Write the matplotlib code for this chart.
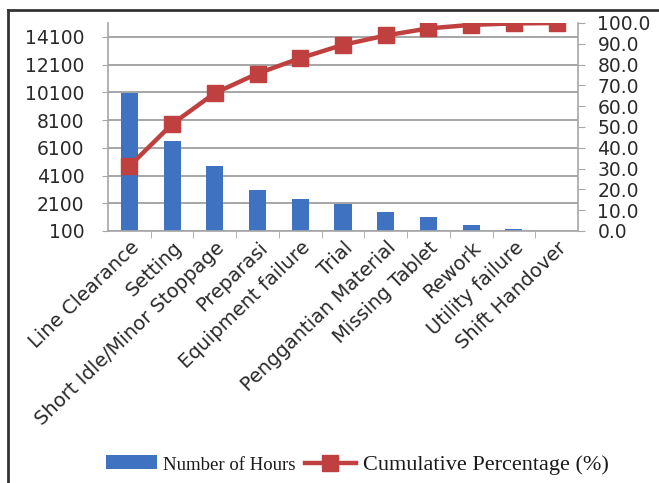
import matplotlib
matplotlib.use('Agg')
import matplotlib.pyplot as plt
from matplotlib.lines import Line2D
from matplotlib.transforms import ScaledTranslation

# downtime categories, hours lost and running share (%)
categorias = ['Line Clearance', 'Setting', 'Short Idle/Minor Stoppage', 'Preparasi',
              'Equipment failure', 'Trial', 'Penggantian Material', 'Missing Tablet',
              'Rework', 'Utility failure', 'Shift Handover']
horas = [10060, 6600, 4800, 3060, 2410, 2050, 1470, 1110, 530, 250, 60]
acumulado = [31.1, 51.4, 66.3, 75.7, 83.1, 89.5, 94.0, 97.4, 99.1, 99.8, 100.0]

ticks_izq = [100, 2100, 4100, 6100, 8100, 10100, 12100, 14100]
ticks_der = [0, 10, 20, 30, 40, 50, 60, 70, 80, 90, 100]

azul = '#3f72c0'
rojo = '#c0403f'
gris = '#a6a6a6'
texto = '#2a2a2a'

W, H = 659, 483
fig = plt.figure(figsize=(W / 100, H / 100), dpi=100)
fig.patch.set_facecolor('white')

ax = fig.add_axes([108 / W, 1 - 231 / H, 470 / W, 208 / H])
x = list(range(len(categorias)))

barras = ax.bar(x, horas, width=0.4, color=azul, zorder=2, label='Number of Hours')
ax.set_ylim(100, 15100)
ax.set_xlim(-0.5, len(categorias) - 0.5)
ax.set_yticks(ticks_izq)
ax.set_yticklabels([str(t) for t in ticks_izq])
ax.yaxis.grid(True, color=gris, linewidth=1.4, zorder=0)
ax.set_axisbelow(True)

# ticks between categories on the x axis
ax.set_xticks([i + 0.5 for i in x[:-1]], minor=True)
ax.set_xticks(x)
ax.tick_params(axis='x', which='major', length=0, pad=10)
ax.tick_params(axis='x', which='minor', length=5, color=gris, direction='out')
ax.set_xticklabels(categorias, rotation=44, ha='right', va='center',
                   rotation_mode='anchor', fontsize=14, color=texto)
# nudge the slanted labels a little to the right
desplazo = ScaledTranslation(5 / 72, 0, fig.dpi_scale_trans)
for lbl in ax.get_xticklabels():
    lbl.set_transform(lbl.get_transform() + desplazo)
ax.tick_params(axis='y', length=4, color=gris, labelsize=13.5, labelcolor=texto, pad=13)

for lado in ['left', 'bottom']:
    ax.spines[lado].set_color(gris)
    ax.spines[lado].set_linewidth(1.2)
ax.spines['top'].set_visible(False)
ax.spines['right'].set_visible(False)

ax2 = ax.twinx()
linea, = ax2.plot(x, acumulado, color=rojo, linewidth=3.2, marker='s', markersize=11,
                  markerfacecolor=rojo, markeredgecolor=rojo, zorder=3,
                  label='Cumulative Percentage (%)')
ax2.set_ylim(0, 100)
ax2.set_yticks(ticks_der)
ax2.set_yticklabels([f'{t:.1f}' for t in ticks_der])
ax2.tick_params(axis='y', length=5, color=gris, labelsize=13.5, labelcolor=texto, pad=9)
for lado in ['left', 'bottom', 'top']:
    ax2.spines[lado].set_visible(False)
ax2.spines['right'].set_color(gris)
ax2.spines['right'].set_linewidth(1.2)

# legend below the category labels
leg = fig.legend([barras, linea], ['Number of Hours', 'Cumulative Percentage (%)'],
                 loc='center', bbox_to_anchor=(357 / W, 1 - 465 / H), ncol=2,
                 frameon=False, handlelength=2.3, handleheight=0.6, handletextpad=0.3,
                 columnspacing=0.4, prop={'family': 'Liberation Serif', 'size': 16})
leg.get_texts()[0].set_fontsize(13.5)
for t in leg.get_texts():
    t.set_color('#1a1a1a')

# outer frame
fig.add_artist(Line2D([8 / W, 1], [1 - 10 / H, 1 - 10 / H], color='#333333', linewidth=2))
fig.add_artist(Line2D([8 / W, 8 / W], [0, 1 - 10 / H], color='#333333', linewidth=2))

fig.savefig('out.png', dpi=100)
